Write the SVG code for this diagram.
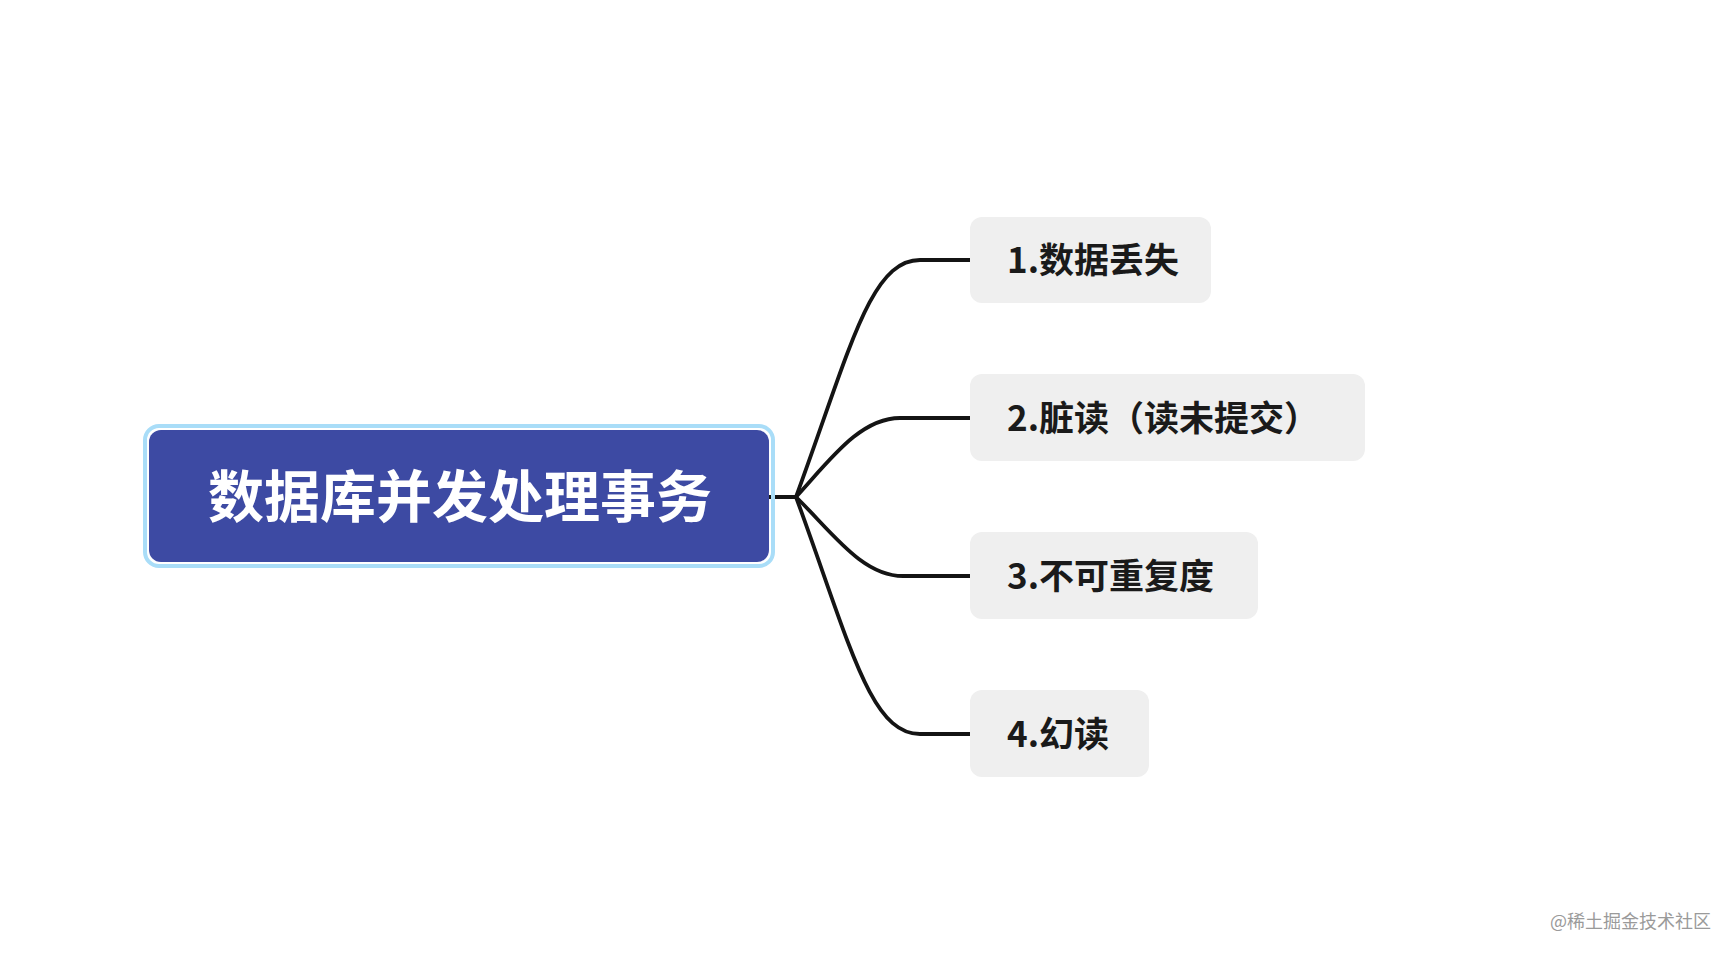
<svg xmlns="http://www.w3.org/2000/svg" width="1736" height="956" viewBox="0 0 1736 956">
<style>
.conn{fill:none;stroke:#141414;stroke-width:3.8;stroke-linecap:round;stroke-linejoin:round}
.child rect{fill:#EFEFEF}
.child text{font-family:"Noto Sans CJK SC","Noto Sans",sans-serif;font-size:35px;font-weight:700;fill:#1A1A1A;dominant-baseline:central}
.root-text{font-family:"Noto Sans CJK SC","Noto Sans",sans-serif;font-size:56px;font-weight:700;fill:#FFFFFF;dominant-baseline:central;text-anchor:middle}
.wm{font-family:"Noto Sans CJK SC","Noto Sans",sans-serif;font-size:18px;fill:#9A9A9A}
</style>
<rect x="0" y="0" width="1736" height="956" fill="#FFFFFF"/>
<g id="connectors">
<path class="conn" d="M769,497 L796,497"/>
<path class="conn" d="M796,497 C850,350 870,260 920,260 L970,260"/>
<path class="conn" d="M796,497 C830,460 860,418 900,418 L970,418"/>
<path class="conn" d="M796,497 C832,532 862,576 903,576 L970,576"/>
<path class="conn" d="M796,497 C850,644 870,734 920,734 L970,734"/>
</g>
<g id="root">
<rect x="145" y="426" width="628" height="140" rx="14" fill="none" stroke="#A9DDF8" stroke-width="4"/>
<rect x="149" y="430" width="620" height="132" rx="12" fill="#3D4AA3"/>
<text class="root-text" x="460" y="492">数据库并发处理事务</text>
</g>
<g id="node1" class="child">
<rect x="970" y="217" width="241" height="86" rx="12"/>
<text x="1007" y="257">1.数据丢失</text>
</g>
<g id="node2" class="child">
<rect x="970" y="374" width="395" height="87" rx="12"/>
<text x="1007" y="415">2.脏读（读未提交）</text>
</g>
<g id="node3" class="child">
<rect x="970" y="532" width="288" height="87" rx="12"/>
<text x="1007" y="573">3.不可重复度</text>
</g>
<g id="node4" class="child">
<rect x="970" y="690" width="179" height="87" rx="12"/>
<text x="1007" y="731">4.幻读</text>
</g>
<text class="wm" x="1550" y="928">@稀土掘金技术社区</text>
</svg>
